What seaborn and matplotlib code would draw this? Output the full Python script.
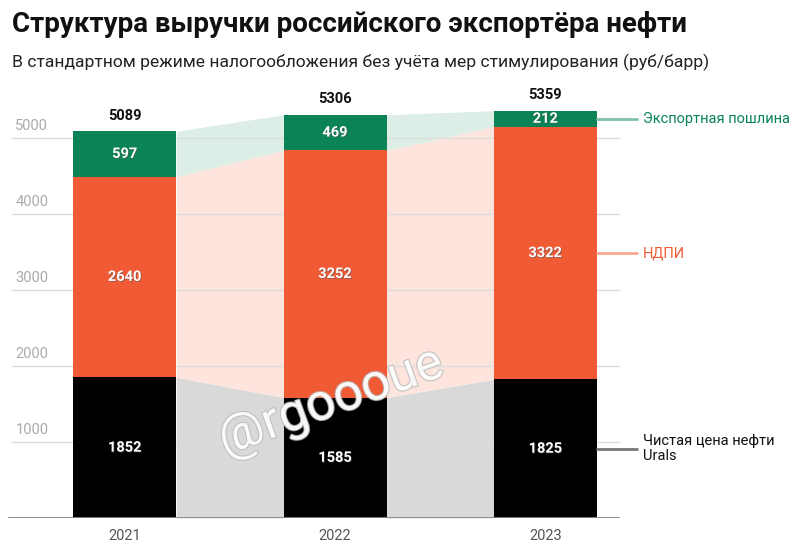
import matplotlib
matplotlib.use("Agg")
import matplotlib.pyplot as plt
import matplotlib.patheffects as pe
import seaborn as sns
import numpy as np

years = ["2021", "2022", "2023"]
urals = [1852, 1585, 1825]
ndpi = [2640, 3252, 3322]
duty = [597, 469, 212]
totals = [5089, 5306, 5359]
series_names = ["Чистая цена нефти\nUrals", "НДПИ", "Экспортная пошлина"]
yticks = [1000, 2000, 3000, 4000, 5000]

c_black, c_orange, c_green = "#000000", "#F05A35", "#0A8456"
c_black_l, c_orange_l, c_green_l = "#D9D9D9", "#FDE5DD", "#DCEEE6"
c_black_m, c_orange_m, c_green_m = "#777777", "#F7A792", "#7FC3A6"

sns.set_theme(style="white")
plt.rcParams["font.family"] = ["Roboto", "DejaVu Sans"]

fig = plt.figure(figsize=(8, 5.49), dpi=100)
ax = fig.add_axes([0.01, 31/549, 0.765, 5700*0.076/549])
ax.set_ylim(0, 5700)
w = 0.49

layers = [urals, ndpi, duty]
colors = [c_black, c_orange, c_green]
lights = [c_black_l, c_orange_l, c_green_l]
bottoms = [np.zeros(3), np.array(urals, float), np.array(urals, float) + np.array(ndpi)]

for vals, bot, col in zip(layers, bottoms, colors):
    sns.barplot(x=years, y=vals, bottom=bot, color=col, width=w, ax=ax,
                saturation=1, zorder=3, linewidth=0)

ax.set_xlim(-0.555, 2.355)

# connecting bands
for vals, bot, lc in zip(layers, bottoms, lights):
    top = bot + np.array(vals)
    for i in range(2):
        xs = [i + w/2, i + 1 - w/2]
        ax.fill_between(xs, [bot[i], bot[i+1]], [top[i], top[i+1]], color=lc,
                        linewidth=0, zorder=1)

# gridlines
for t in yticks:
    ax.axhline(t, color="#DDDDDD", lw=1, zorder=2, xmin=4/612, xmax=1)
    ax.text(-0.52, t + 60, str(t), color="#AAAAAA", fontsize=10.5, va="bottom", ha="left")
ax.axhline(0, color="#888888", lw=2, zorder=4)

# segment labels
shadow = [pe.withSimplePatchShadow(offset=(0.6, -0.6), shadow_rgbFace="#555555", alpha=0.6)]
for vals, bot in zip(layers, bottoms):
    for i, v in enumerate(vals):
        ax.text(i, bot[i] + v/2, str(v), color="white", fontsize=10.5, fontweight="bold",
                ha="center", va="center", zorder=5, path_effects=shadow)
for i, t in enumerate(totals):
    ax.text(i, t + 110, str(t), color="#111111", fontsize=10.5, fontweight="bold",
            ha="center", va="bottom", zorder=5)

# right side labels
lab_cols = [c_black_m, c_orange_m, c_green_m]
txt_cols = ["#111111", "#F05A35", "#0A8456"]
for k, (vals, bot) in enumerate(zip(layers, bottoms)):
    yc = bot[2] + vals[2]/2
    ax.plot([2 + w/2, 2.436], [yc, yc], color=lab_cols[k], lw=2, clip_on=False, zorder=4)
    ax.text(2.465, yc, series_names[k], color=txt_cols[k], fontsize=10.5,
            ha="left", va="center", clip_on=False, linespacing=1.15)

# watermark
ax.text(0.98, 1520, "@rgoooue", fontsize=37, rotation=20, color="white", alpha=0.85,
        ha="center", va="center", zorder=6,
        path_effects=[pe.withStroke(linewidth=1.5, foreground="#BBBBBB")])

ax.set_xticks([0, 1, 2])
ax.set_xticklabels(years, color="#555555", fontsize=10.5)
ax.tick_params(axis="x", length=0, pad=8)
ax.set_yticks([])
ax.set_xlabel("")
ax.set_ylabel("")
for s in ax.spines.values():
    s.set_visible(False)

fig.text(12/800, 1 - 11/549, "Структура выручки российского экспортёра нефти",
         fontsize=20, fontweight="bold", va="top", ha="left", color="#111111")
fig.text(12/800, 1 - 54/549,
         "В стандартном режиме налогообложения без учёта мер стимулирования (руб/барр)",
         fontsize=12.6, va="top", ha="left", color="#222222")

fig.savefig("out.png", dpi=100)
